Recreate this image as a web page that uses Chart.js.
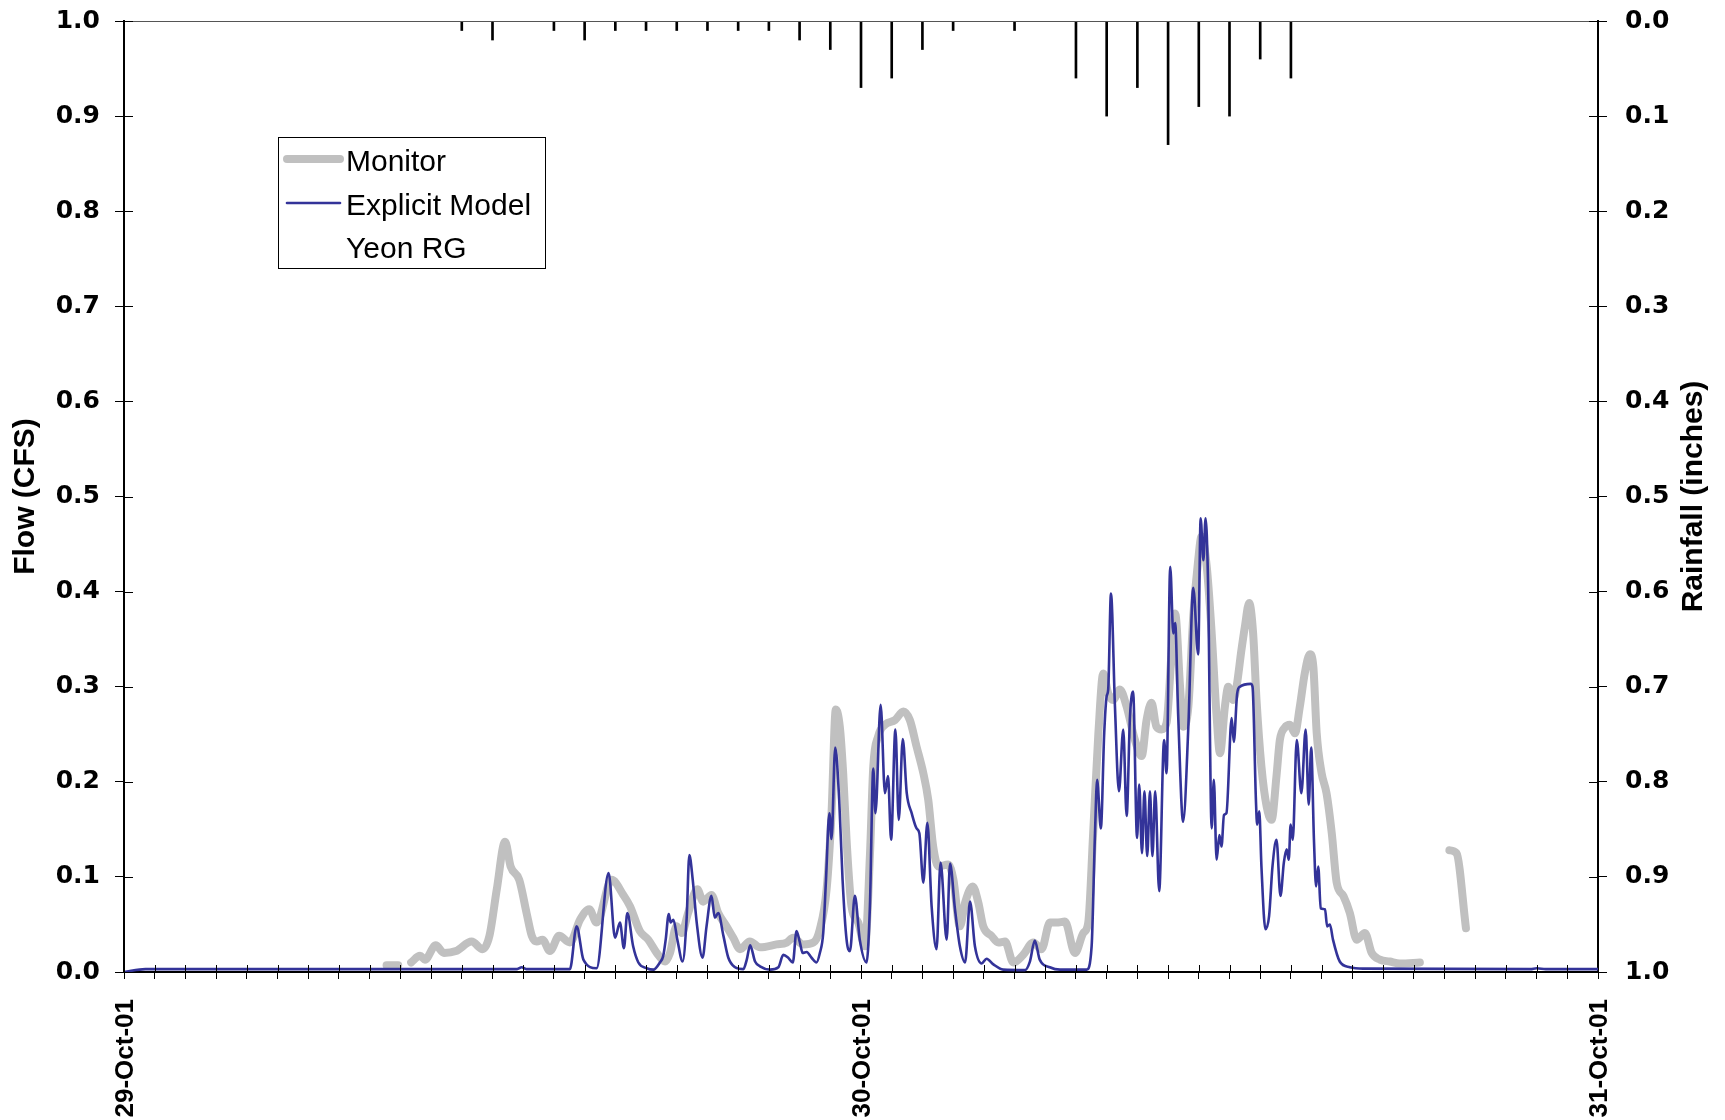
<!DOCTYPE html>
<html>
<head>
<meta charset="utf-8">
<script src="https://cdn.jsdelivr.net/npm/chart.js@4.4.1/dist/chart.umd.min.js"></script>
<style>
  html, body { margin: 0; padding: 0; background: #fff; }
  #wrap { width: 1725px; height: 1120px; }
</style>
</head>
<body>
<div id="wrap"><canvas id="flowChart" width="1725" height="1120"></canvas></div>
<script>
// hours counted from 29-Oct-01 00:00
const dayLabels = ["29-Oct-01", "30-Oct-01", "31-Oct-01"];

const rainHours  = [11, 12, 14, 15, 16, 17, 18, 19, 20, 21, 22, 23, 24, 25, 26, 27, 29, 31, 32, 33, 34, 35, 36, 37, 38];
const rainInches = [0.01, 0.02, 0.01, 0.02, 0.01, 0.01, 0.01, 0.01, 0.01, 0.01, 0.02, 0.03, 0.07, 0.06, 0.03, 0.01, 0.01, 0.06, 0.10, 0.07, 0.13, 0.09, 0.10, 0.04, 0.06];

const monitorHours = [8.55, 8.93, 9.1, 9.35, 9.64, 9.80, 10.15, 10.42, 10.81, 11.32, 11.68, 11.90, 12.14, 12.41, 12.59, 12.87, 13.11, 13.28, 13.44, 13.63, 13.87, 14.17, 14.52, 14.85, 15.15, 15.39, 15.88, 16.26, 16.48, 16.80, 17.07, 17.35, 17.62, 17.78, 17.99, 18.16, 18.37, 18.67, 18.86, 19.13, 19.35, 19.62, 19.84, 20.06, 20.38, 20.71, 21.25, 21.58, 21.79, 22.12, 22.45, 22.66, 22.88, 23.04, 23.18, 23.31, 23.42, 23.53, 23.69, 23.91, 24.13, 24.29, 24.40, 24.56, 24.78, 25.11, 25.38, 25.59, 25.81, 26.03, 26.19, 26.35, 26.52, 26.84, 27.01, 27.22, 27.39, 27.64, 27.82, 27.98, 28.25, 28.47, 28.69, 28.96, 29.28, 29.61, 29.88, 30.15, 30.37, 30.64, 30.97, 31.24, 31.40, 31.56, 31.73, 31.89, 32.05, 32.21, 32.43, 32.65, 32.92, 33.14, 33.30, 33.46, 33.62, 33.79, 33.95, 34.12, 34.23, 34.39, 34.49, 34.66, 34.82, 34.98, 35.09, 35.26, 35.42, 35.58, 35.69, 35.85, 35.96, 36.12, 36.23, 36.39, 36.50, 36.64, 36.77, 36.88, 37.04, 37.21, 37.37, 37.53, 37.64, 37.80, 37.97, 38.13, 38.29, 38.45, 38.62, 38.73, 38.84, 39.00, 39.16, 39.33, 39.49, 39.71, 39.92, 40.14, 40.41, 40.63, 40.90, 41.22, 41.55, 42.20, 42.6, 43.16, 43.39, 43.70];
const monitorFlow  = [0.007, 0.007, null, 0.010, 0.017, 0.013, 0.028, 0.020, 0.022, 0.032, 0.024, 0.038, 0.087, 0.137, 0.111, 0.097, 0.062, 0.038, 0.032, 0.034, 0.022, 0.038, 0.031, 0.055, 0.066, 0.052, 0.097, 0.081, 0.069, 0.043, 0.034, 0.020, 0.011, 0.020, 0.048, 0.041, 0.062, 0.087, 0.074, 0.081, 0.062, 0.048, 0.036, 0.024, 0.032, 0.026, 0.029, 0.031, 0.036, 0.029, 0.031, 0.045, 0.087, 0.167, 0.276, 0.258, 0.209, 0.139, 0.069, 0.052, 0.027, 0.122, 0.216, 0.248, 0.260, 0.265, 0.274, 0.265, 0.237, 0.209, 0.181, 0.132, 0.111, 0.113, 0.097, 0.048, 0.073, 0.090, 0.073, 0.048, 0.038, 0.031, 0.032, 0.010, 0.018, 0.031, 0.024, 0.052, 0.052, 0.053, 0.020, 0.041, 0.052, 0.146, 0.251, 0.314, 0.293, 0.286, 0.297, 0.279, 0.244, 0.227, 0.265, 0.283, 0.258, 0.255, 0.262, 0.339, 0.377, 0.300, 0.258, 0.279, 0.374, 0.433, 0.458, 0.426, 0.356, 0.269, 0.230, 0.279, 0.300, 0.286, 0.300, 0.339, 0.363, 0.388, 0.356, 0.286, 0.216, 0.174, 0.160, 0.206, 0.244, 0.257, 0.260, 0.251, 0.279, 0.314, 0.334, 0.321, 0.251, 0.209, 0.188, 0.146, 0.094, 0.080, 0.062, 0.034, 0.041, 0.020, 0.013, 0.011, 0.009, 0.010, null, 0.128, 0.125, 0.046];

const modelHours = [0, 0.7, 12.80, 12.95, 13.10, 14.52, 14.74, 14.96, 15.39, 15.78, 15.99, 16.15, 16.28, 16.39, 16.58, 16.75, 17.02, 17.24, 17.45, 17.56, 17.64, 17.74, 17.80, 17.89, 18.02, 18.19, 18.32, 18.41, 18.52, 18.65, 18.84, 18.97, 19.13, 19.24, 19.35, 19.52, 19.68, 19.90, 20.17, 20.28, 20.39, 20.55, 20.71, 21.04, 21.31, 21.47, 21.63, 21.78, 21.90, 22.01, 22.10, 22.23, 22.39, 22.55, 22.66, 22.77, 22.86, 22.97, 23.04, 23.16, 23.29, 23.40, 23.53, 23.64, 23.80, 23.96, 24.18, 24.29, 24.40, 24.47, 24.64, 24.78, 24.88, 24.98, 25.12, 25.23, 25.36, 25.49, 25.65, 25.81, 25.90, 26.03, 26.16, 26.30, 26.46, 26.59, 26.79, 26.90, 27.06, 27.22, 27.39, 27.55, 27.71, 27.93, 28.09, 28.31, 28.63, 29.34, 29.50, 29.66, 29.82, 30.15, 30.48, 31.35, 31.51, 31.62, 31.69, 31.81, 31.92, 32.00, 32.05, 32.14, 32.27, 32.40, 32.54, 32.65, 32.76, 32.86, 32.99, 33.06, 33.15, 33.23, 33.32, 33.41, 33.49, 33.58, 33.71, 33.87, 33.95, 34.07, 34.17, 34.23, 34.33, 34.49, 34.66, 34.82, 34.98, 35.06, 35.15, 35.22, 35.30, 35.42, 35.49, 35.58, 35.67, 35.74, 35.82, 35.90, 36.07, 36.14, 36.25, 36.34, 36.69, 36.75, 36.86, 36.90, 36.97, 37.04, 37.17, 37.29, 37.40, 37.53, 37.66, 37.77, 37.86, 37.93, 37.99, 38.06, 38.19, 38.34, 38.48, 38.58, 38.66, 38.75, 38.82, 38.89, 38.97, 39.11, 39.18, 39.27, 39.37, 39.59, 39.92, 40.35, 45.8, 46.0, 46.3, 48];
const modelFlow  = [0, 0.003, 0.003, 0.005, 0.003, 0.003, 0.048, 0.013, 0.004, 0.104, 0.036, 0.052, 0.025, 0.062, 0.027, 0.010, 0.004, 0.0025, 0.010, 0.017, 0.034, 0.061, 0.052, 0.055, 0.034, 0.011, 0.055, 0.123, 0.097, 0.052, 0.015, 0.048, 0.080, 0.057, 0.062, 0.038, 0.015, 0.005, 0.003, 0.013, 0.028, 0.011, 0.006, 0.0025, 0.005, 0.018, 0.015, 0.010, 0.043, 0.031, 0.020, 0.021, 0.015, 0.010, 0.020, 0.041, 0.097, 0.167, 0.140, 0.236, 0.181, 0.097, 0.034, 0.022, 0.080, 0.034, 0.010, 0.069, 0.214, 0.167, 0.281, 0.188, 0.206, 0.139, 0.255, 0.160, 0.245, 0.188, 0.167, 0.151, 0.146, 0.094, 0.157, 0.069, 0.024, 0.115, 0.034, 0.114, 0.066, 0.027, 0.010, 0.074, 0.027, 0.009, 0.014, 0.008, 0.0025, 0.002, 0.011, 0.033, 0.013, 0.005, 0.0025, 0.0025, 0.027, 0.146, 0.202, 0.151, 0.251, 0.290, 0.297, 0.398, 0.279, 0.190, 0.255, 0.164, 0.269, 0.295, 0.141, 0.197, 0.125, 0.190, 0.122, 0.190, 0.122, 0.190, 0.085, 0.244, 0.209, 0.426, 0.356, 0.367, 0.269, 0.158, 0.258, 0.404, 0.334, 0.477, 0.433, 0.477, 0.412, 0.151, 0.202, 0.118, 0.144, 0.132, 0.165, 0.167, 0.267, 0.242, 0.293, 0.300, 0.303, 0.300, 0.181, 0.155, 0.169, 0.111, 0.045, 0.059, 0.111, 0.139, 0.080, 0.115, 0.129, 0.118, 0.155, 0.139, 0.244, 0.188, 0.255, 0.176, 0.236, 0.139, 0.090, 0.111, 0.067, 0.066, 0.048, 0.050, 0.034, 0.011, 0.005, 0.0035, 0.003, 0.004, 0.003, 0.003];

const pairs = (xs, ys) => xs.map((x, i) => ({ x: x, y: ys[i] }));

const GRAY = "#c0c0c0";
const BLUE = "#333399";

// frame details, legend box and the right-hand title (reads bottom to top)
const framePlugin = {
  id: "frame",
  afterDraw(chart) {
    const { ctx, chartArea: a, scales } = chart;
    const line = (x1, y1, x2, y2) => { ctx.beginPath(); ctx.moveTo(x1, y1); ctx.lineTo(x2, y2); ctx.stroke(); };
    ctx.save();

    ctx.strokeStyle = "#555";
    ctx.lineWidth = 1;
    line(a.left, a.top + 0.5, a.right, a.top + 0.5);

    ctx.strokeStyle = "#000";
    scales.y.ticks.forEach(t => {
      const py = Math.round(scales.y.getPixelForValue(t.value)) + 0.5;
      line(a.left, py, a.left + 9, py);
    });
    scales.y2.ticks.forEach(t => {
      const py = Math.round(scales.y2.getPixelForValue(t.value)) + 0.5;
      line(a.right - 9, py, a.right, py);
    });
    scales.x.ticks.forEach(t => {
      const px = Math.round(scales.x.getPixelForValue(t.value)) + 0.5;
      line(px, a.bottom, px, a.bottom - 7);
    });

    ctx.save();
    ctx.translate(1694, (a.top + a.bottom) / 2);
    ctx.rotate(-Math.PI / 2);
    ctx.font = "bold 30px 'Liberation Sans', Arial, sans-serif";
    ctx.fillStyle = "#000";
    ctx.textAlign = "center";
    ctx.textBaseline = "middle";
    ctx.fillText("Rainfall (inches)", 0, 0);
    ctx.restore();

    // legend
    const ds = chart.data.datasets;
    ctx.fillStyle = "#fff";
    ctx.fillRect(278, 137.5, 267, 131);
    ctx.strokeStyle = "#000";
    ctx.lineWidth = 1;
    ctx.strokeRect(278.5, 137.5, 267, 131);
    ctx.font = "30px 'Liberation Sans', Arial, sans-serif";
    ctx.fillStyle = "#000";
    ctx.textAlign = "left";
    ctx.textBaseline = "alphabetic";
    const rows = [171, 215, 258];
    ds.forEach((d, i) => {
      if (d.type === "line") {
        ctx.strokeStyle = d.borderColor;
        ctx.lineWidth = d.borderWidth;
        ctx.lineCap = "round";
        line(287, rows[i] - 12, 340, rows[i] - 12);
      }
      ctx.fillText(d.label, 346, rows[i]);
    });
    ctx.restore();
  }
};

// fixed axis sizes so the plot area sits where the original one does
const fitY = w => s => { s.width = w; s.paddingTop = 0; s.paddingBottom = 0; };

new Chart(document.getElementById("flowChart"), {
  type: "line",
  data: {
    datasets: [
      {
        type: "line",
        label: "Monitor",
        data: pairs(monitorHours, monitorFlow),
        borderColor: GRAY,
        borderWidth: 8,
        borderCapStyle: "round",
        borderJoinStyle: "round",
        cubicInterpolationMode: "monotone",
        pointRadius: 0,
        spanGaps: false,
        yAxisID: "y",
        order: 3
      },
      {
        type: "line",
        label: "Explicit Model",
        data: pairs(modelHours, modelFlow),
        borderColor: BLUE,
        borderWidth: 2.6,
        borderJoinStyle: "round",
        cubicInterpolationMode: "monotone",
        pointRadius: 0,
        yAxisID: "y",
        order: 1
      },
      {
        type: "bar",
        label: "Yeon RG",
        data: pairs(rainHours, rainInches),
        backgroundColor: "#000",
        barThickness: 2,
        yAxisID: "y2",
        order: 2
      }
    ]
  },
  options: {
    responsive: false,
    animation: false,
    layout: { padding: { top: 21, left: 0, right: 0, bottom: 0 } },
    plugins: {
      legend: { display: false },
      tooltip: { enabled: false }
    },
    scales: {
      x: {
        type: "linear",
        min: 0,
        max: 48,
        offset: false,
        afterFit: s => { s.height = 148; s.paddingLeft = 0; s.paddingRight = 0; },
        ticks: {
          stepSize: 1,
          autoSkip: false,
          minRotation: 90,
          maxRotation: 90,
          padding: 20,
          labelOffset: 2,
          color: "#000",
          font: { family: "'Liberation Sans', Arial", size: 26, weight: "bold" },
          callback: v => (v % 24 === 0 ? dayLabels[v / 24] : "")
        },
        grid: { offset: false, drawOnChartArea: false, tickLength: 7, color: "#000" },
        border: { color: "#000", width: 2 }
      },
      y: {
        position: "left",
        min: 0,
        max: 1,
        afterFit: fitY(124),
        ticks: {
          stepSize: 0.1,
          padding: 15,
          color: "#000",
          font: { family: "'DejaVu Sans'", size: 25, weight: "bold" },
          callback: v => v.toFixed(1)
        },
        grid: { drawOnChartArea: false, tickLength: 9, color: "#000" },
        border: { color: "#000", width: 2 },
        title: {
          display: true,
          text: "Flow (CFS)",
          color: "#000",
          padding: { top: 8, bottom: 0 },
          font: { family: "'Liberation Sans', Arial", size: 30, weight: "bold" }
        }
      },
      y2: {
        position: "right",
        min: 0,
        max: 1,
        reverse: true,
        afterFit: fitY(127),
        ticks: {
          stepSize: 0.1,
          padding: 18,
          color: "#000",
          font: { family: "'DejaVu Sans'", size: 25, weight: "bold" },
          callback: v => v.toFixed(1)
        },
        grid: { drawOnChartArea: false, tickLength: 9, color: "#000" },
        border: { color: "#000", width: 2 }
      }
    }
  },
  plugins: [framePlugin]
});
</script>
</body>
</html>
